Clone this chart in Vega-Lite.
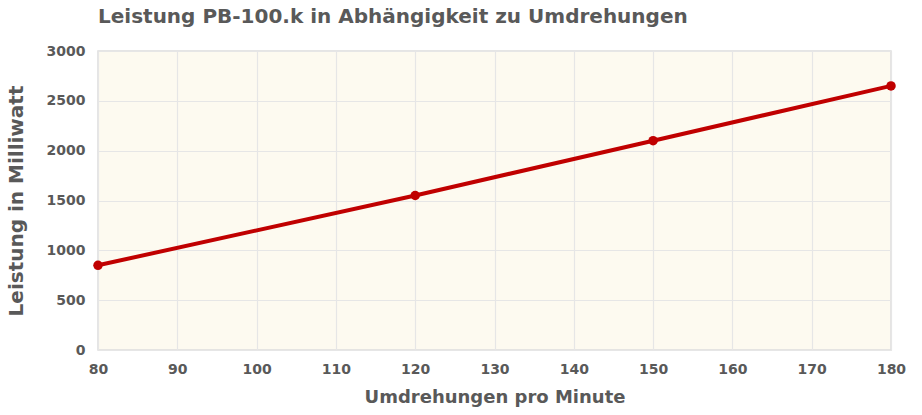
{
  "$schema": "https://vega.github.io/schema/vega-lite/v6.json",
  "width": 793,
  "height": 299,
  "autosize": {"type": "none"},
  "padding": {"left": 98, "top": 51, "right": 31, "bottom": 65},
  "background": "#ffffff",
  "title": {
    "text": "Leistung PB-100.k in Abhängigkeit zu Umdrehungen",
    "anchor": "start",
    "frame": "group",
    "font": "DejaVu Sans",
    "fontSize": 20,
    "fontWeight": "bold",
    "color": "#595959",
    "offset": 17
  },
  "config": {
    "view": {"fill": "#fdfaf0", "stroke": "#dddddd", "strokeWidth": 1.5},
    "axis": {
      "labelFont": "DejaVu Sans",
      "labelFontWeight": "bold",
      "labelFontSize": 14,
      "labelColor": "#595959",
      "titleFont": "DejaVu Sans",
      "titleFontWeight": "bold",
      "titleFontSize": 18,
      "titleColor": "#595959",
      "gridColor": "#e6e6e6",
      "gridWidth": 1.2,
      "ticks": false,
      "domain": false,
      "labelFlush": false
    }
  },
  "data": {
    "values": [
      {"rpm": 80, "mw": 850},
      {"rpm": 120, "mw": 1550},
      {"rpm": 150, "mw": 2100},
      {"rpm": 180, "mw": 2650}
    ]
  },
  "layer": [
    {
      "mark": {"type": "line", "color": "#c00000", "strokeWidth": 4},
      "encoding": {
        "x": {
          "field": "rpm", "type": "quantitative",
          "scale": {"domain": [80, 180], "nice": false},
          "axis": {"values": [80, 90, 100, 110, 120, 130, 140, 150, 160, 170, 180], "format": "d", "title": "Umdrehungen pro Minute", "labelPadding": 12, "titlePadding": 12}
        },
        "y": {
          "field": "mw", "type": "quantitative",
          "scale": {"domain": [0, 3000], "nice": false},
          "axis": {"values": [0, 500, 1000, 1500, 2000, 2500, 3000], "format": "d", "title": "Leistung in Milliwatt", "labelPadding": 13, "titleFontSize": 20, "titlePadding": 20}
        }
      }
    },
    {
      "mark": {"type": "point", "filled": true, "color": "#c00000", "size": 90, "opacity": 1},
      "encoding": {
        "x": {"field": "rpm", "type": "quantitative"},
        "y": {"field": "mw", "type": "quantitative"}
      }
    }
  ]
}
